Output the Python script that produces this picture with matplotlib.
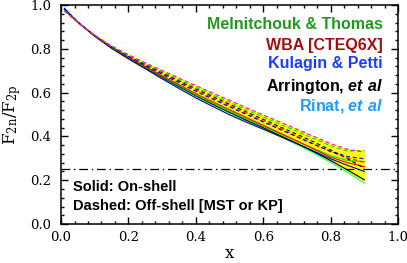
import matplotlib
matplotlib.use("Agg")
import matplotlib.pyplot as plt
from matplotlib.ticker import MultipleLocator
import numpy as np

# x grid of the model curves
x = [0.01, 0.05, 0.1, 0.15, 0.2, 0.25, 0.3, 0.35, 0.4, 0.45,
     0.5, 0.55, 0.6, 0.65, 0.7, 0.75, 0.8, 0.85, 0.9]

# solid: on-shell
blue_solid = [0.985, 0.922, 0.857, 0.802, 0.754, 0.709, 0.663, 0.619, 0.576, 0.537,
              0.499, 0.465, 0.433, 0.400, 0.367, 0.333, 0.298, 0.268, 0.240]
cyan_solid = [0.980, 0.921, 0.858, 0.804, 0.757, 0.712, 0.668, 0.625, 0.583, 0.544,
              0.507, 0.471, 0.437, 0.401, 0.363, 0.324, 0.282, 0.236, 0.187]
black_solid = [0.979, 0.922, 0.859, 0.805, 0.758, 0.714, 0.670, 0.628, 0.586, 0.547,
               0.510, 0.474, 0.440, 0.404, 0.368, 0.330, 0.290, 0.247, 0.202]
green_solid = [0.978, 0.921, 0.860, 0.807, 0.761, 0.717, 0.674, 0.632, 0.590, 0.552,
               0.515, 0.480, 0.446, 0.412, 0.378, 0.345, 0.312, 0.290, 0.285]
red_solid = [0.978, 0.921, 0.860, 0.808, 0.762, 0.719, 0.677, 0.636, 0.595, 0.558,
             0.522, 0.486, 0.451, 0.415, 0.379, 0.342, 0.305, 0.280, 0.262]

# dashed: off-shell
magenta_dash = [0.972, 0.920, 0.862, 0.813, 0.773, 0.736, 0.701, 0.666, 0.632, 0.598,
                0.565, 0.531, 0.498, 0.466, 0.433, 0.400, 0.367, 0.341, 0.328]
green_dash = [0.975, 0.921, 0.861, 0.811, 0.770, 0.732, 0.695, 0.659, 0.624, 0.590,
              0.556, 0.522, 0.489, 0.456, 0.423, 0.390, 0.357, 0.333, 0.336]
black_dash = [0.976, 0.921, 0.860, 0.810, 0.768, 0.729, 0.691, 0.654, 0.617, 0.582,
              0.547, 0.512, 0.478, 0.444, 0.410, 0.375, 0.338, 0.298, 0.255]
red_dash = [0.977, 0.921, 0.860, 0.809, 0.766, 0.726, 0.687, 0.649, 0.611, 0.575,
            0.540, 0.505, 0.470, 0.436, 0.401, 0.365, 0.330, 0.302, 0.282]
blue_dash = [0.983, 0.922, 0.859, 0.808, 0.765, 0.724, 0.684, 0.645, 0.606, 0.570,
             0.535, 0.500, 0.466, 0.432, 0.398, 0.364, 0.332, 0.308, 0.298]

solid = [(cyan_solid, '#00ffff'), (blue_solid, '#0000ff'), (black_solid, 'black'),
         (green_solid, '#00e000'), (red_solid, '#ff0000')]
dashed = [(black_dash, 'black'), (red_dash, '#ff0000'), (blue_dash, '#0000ff'),
          (green_dash, '#00e000'), (magenta_dash, '#ff00ff')]

ratio_cut = 0.25

labels = ['Melnitchouk & Thomas', 'WBA [CTEQ6X]', 'Kulagin & Petti',
          r'Arrington, $\mathbfit{et\ al}$', r'Rinat, $\mathbfit{et\ al}$']
label_colors = ['#1f9a1f', '#a01010', '#1a3cff', 'black', '#1e9bff']

plt.rcParams['mathtext.fontset'] = 'custom'
plt.rcParams['mathtext.bfit'] = 'Liberation Sans:bold:italic'

fig = plt.figure(figsize=(4.07, 2.63), dpi=100)
ax = fig.add_axes([0.150, 0.148, 0.828, 0.833])

allc = np.array([c for c, _ in solid + dashed])
ax.fill_between(x, allc.min(axis=0) - 0.004, allc.max(axis=0) + 0.003,
                color='#ffff00', lw=0, zorder=1)
for c, col in solid:
    ax.plot(x, c, color=col, lw=0.8, zorder=2)
for c, col in dashed:
    ax.plot(x, c, color=col, lw=0.8, ls=(0, (3.5, 2.5)), zorder=3)

ax.axhline(ratio_cut, color='black', lw=0.9, ls=(0, (7, 3, 1.2, 3)), zorder=4)

ax.set_xlim(0, 1)
ax.set_ylim(0, 1)
ax.xaxis.set_major_locator(MultipleLocator(0.2))
ax.yaxis.set_major_locator(MultipleLocator(0.2))
ax.xaxis.set_minor_locator(MultipleLocator(0.04))
ax.yaxis.set_minor_locator(MultipleLocator(0.04))
ax.tick_params(which='both', direction='in', top=True, right=True, width=1.0,
               labelsize=9.5, labelfontfamily='DejaVu Serif')
ax.tick_params(which='major', length=5)
ax.tick_params(which='minor', length=2.5)
ax.tick_params(axis='x', pad=5)
ax.tick_params(axis='y', pad=7)
for sp in ax.spines.values():
    sp.set_linewidth(1.1)

ax.set_xlabel('x', family='DejaVu Serif', fontsize=12, labelpad=1)
ax.set_ylabel(r'$\mathrm{F_{2n}/F_{2p}}$', fontsize=12, labelpad=5,
              math_fontfamily='dejavuserif')

ys = [0.909, 0.817, 0.731, 0.630, 0.539]
for t, col, yy in zip(labels, label_colors, ys):
    ax.text(0.955, yy, t, transform=ax.transAxes, ha='right', va='center',
            color=col, fontsize=11.5, fontweight='bold', family='Liberation Sans')

ax.text(0.036, 0.169, 'Solid: On-shell', transform=ax.transAxes, va='center',
        fontsize=10.5, fontweight='bold', family='Liberation Sans')
ax.text(0.036, 0.082, 'Dashed: Off-shell [MST or KP]', transform=ax.transAxes,
        va='center', fontsize=10.5, fontweight='bold', family='Liberation Sans')

fig.savefig('out.png', dpi=100)
